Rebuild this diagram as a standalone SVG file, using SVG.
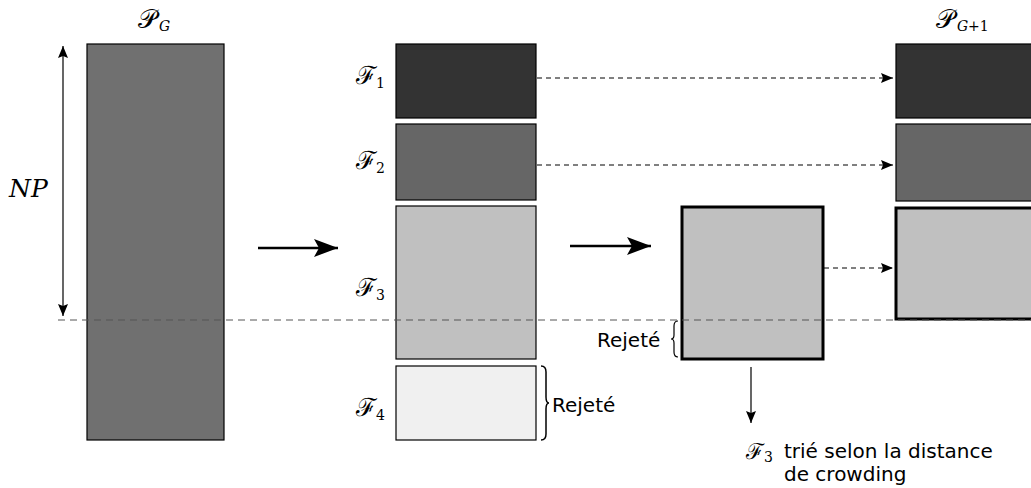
<svg xmlns="http://www.w3.org/2000/svg" width="1031" height="488" viewBox="0 0 1031 488">
<style>
.box{stroke:#000;stroke-width:1.2}
.thick{stroke:#000;stroke-width:3}
.math{font-family:"DejaVu Serif","Liberation Serif",serif;fill:#000}
.it{font-family:"DejaVu Serif","Liberation Serif",serif;font-style:italic;fill:#000}
.sub{font-family:"DejaVu Serif","Liberation Serif",serif;font-size:14px;fill:#000}
.txt{font-family:"DejaVu Sans",sans-serif;font-size:20px;fill:#000}
.dash{stroke:#000;stroke-width:1;stroke-dasharray:5,4;fill:none}
</style>
<defs>
<marker id="ah" viewBox="0 0 12 10" refX="12" refY="5" markerWidth="12" markerHeight="10" markerUnits="userSpaceOnUse" orient="auto-start-reverse"><path d="M0,0 L12,5 L0,10 L2,5 Z" fill="#000"/></marker>
<marker id="bigh" viewBox="0 0 24 18" refX="24" refY="9" markerWidth="24" markerHeight="18" markerUnits="userSpaceOnUse" orient="auto"><path d="M0,0 L24,9 L0,18 L5,9 Z" fill="#000"/></marker>
</defs>
<g id="connectors">
<line x1="63" y1="46" x2="63" y2="316" stroke="#000" stroke-width="1.2" marker-start="url(#ah)" marker-end="url(#ah)"/>
<line x1="258" y1="248" x2="338" y2="248" stroke="#000" stroke-width="2.5" marker-end="url(#bigh)"/>
<line x1="570" y1="246" x2="651" y2="246" stroke="#000" stroke-width="2.5" marker-end="url(#bigh)"/>
<line x1="537" y1="78" x2="893" y2="78" class="dash" marker-end="url(#ah)"/>
<line x1="537" y1="165" x2="893" y2="165" class="dash" marker-end="url(#ah)"/>
<line x1="824" y1="268" x2="893" y2="268" class="dash" marker-end="url(#ah)"/>
<line x1="751" y1="367" x2="751" y2="423" stroke="#000" stroke-width="1.2" marker-end="url(#ah)"/>
</g>
<g id="PG">
<rect x="87" y="44" width="137" height="396" fill="#707070" class="box"/>
<text x="138" y="28" class="math" font-size="26">𝒫</text><text x="159" y="31" class="sub" font-style="italic">G</text>
<text x="9" y="197" class="it" font-size="25">NP</text>
</g>
<g id="F1"><rect x="396" y="44" width="140" height="74" fill="#333" class="box"/>
<text x="356" y="84" class="math" font-size="25">ℱ</text><text x="376" y="88" class="sub">1</text></g>
<g id="F2"><rect x="396" y="124" width="140" height="76" fill="#666" class="box"/>
<text x="356" y="169" class="math" font-size="25">ℱ</text><text x="376" y="173" class="sub">2</text></g>
<g id="F3"><rect x="396" y="206" width="140" height="153" fill="#c0c0c0" class="box"/>
<text x="356" y="296" class="math" font-size="25">ℱ</text><text x="376" y="300" class="sub">3</text></g>
<g id="F4"><rect x="396" y="366" width="140" height="74" fill="#f0f0f0" class="box"/>
<text x="356" y="416" class="math" font-size="25">ℱ</text><text x="376" y="420" class="sub">4</text>
<path d="M541,366 Q546,366 546,372 L546,397 Q546,403 549,403 Q546,403 546,409 L546,434 Q546,440 541,440" fill="none" stroke="#000" stroke-width="1.5"/>
<text x="552" y="412" class="txt">Rejeté</text></g>
<g id="F3sorted"><rect x="682" y="207" width="141" height="152" fill="#c0c0c0" class="thick"/>
<path d="M678,321 Q674,321 674,326 L674,335 Q674,339 671,339 Q674,339 674,343 L674,352 Q674,357 678,357" fill="none" stroke="#000" stroke-width="1.2"/>
<text x="597" y="347" class="txt">Rejeté</text>
<text x="746" y="459" class="math" font-size="22">ℱ</text><text x="764" y="462" class="sub">3</text>
<text x="784" y="458" class="txt">trié selon la distance</text>
<text x="784" y="481" class="txt">de crowding</text></g>
<g id="PG1">
<rect x="896" y="44" width="140" height="74" fill="#333" class="box"/>
<rect x="896" y="124" width="140" height="77" fill="#666" class="box"/>
<rect x="896" y="208" width="140" height="111" fill="#c0c0c0" class="thick"/>
<text x="936" y="28" class="math" font-size="26">𝒫</text><text x="957" y="31" class="sub" font-style="italic">G</text><text x="968" y="31" class="sub">+1</text>
</g>
<line x1="58" y1="320" x2="1031" y2="320" stroke="#555" stroke-width="1" stroke-dasharray="7,5"/>
</svg>
